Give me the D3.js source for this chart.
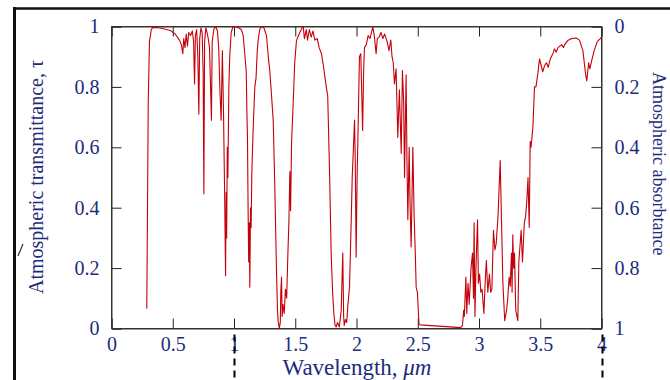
<!DOCTYPE html>
<html>
<head>
<meta charset="utf-8">
<script src="https://cdn.jsdelivr.net/npm/d3@7"></script>
<style>
  body { margin: 0; background: #fff; }
  svg { display: block; font-family: "Liberation Serif", "Times New Roman", serif; }
</style>
</head>
<body>
<svg id="chart" width="670" height="380"></svg>
<script>
// Wavelength (µm) and atmospheric transmittance
const wavelength = [
  0.288, 0.293, 0.300, 0.310, 0.325, 0.337, 0.40, 0.48, 0.52, 0.555, 0.57, 0.582, 0.59, 0.60, 0.61, 0.62, 0.63, 0.645, 0.66, 0.67,
  0.678, 0.685, 0.695, 0.705, 0.713, 0.72, 0.73, 0.74, 0.748, 0.754, 0.76, 0.77, 0.78, 0.79, 0.80, 0.816, 0.822, 0.835, 0.85, 0.865,
  0.875, 0.885, 0.895, 0.905, 0.915, 0.92, 0.925, 0.931, 0.936, 0.94, 0.945, 0.95, 0.958, 0.965, 0.977, 0.99, 1.01, 1.04, 1.06, 1.075,
  1.09, 1.10, 1.105, 1.11, 1.115, 1.12, 1.125, 1.129, 1.135, 1.14, 1.145, 1.15, 1.16, 1.17, 1.18, 1.19, 1.197, 1.21, 1.224, 1.245,
  1.265, 1.28, 1.292, 1.305, 1.32, 1.333, 1.34, 1.347, 1.355, 1.36, 1.37, 1.378, 1.382, 1.388, 1.393, 1.40, 1.41, 1.42, 1.43, 1.44,
  1.448, 1.456, 1.462, 1.47, 1.483, 1.495, 1.51, 1.537, 1.555, 1.565, 1.575, 1.59, 1.60, 1.615, 1.63, 1.645, 1.66, 1.68, 1.695, 1.714,
  1.73, 1.74, 1.753, 1.765, 1.78, 1.793, 1.805, 1.815, 1.825, 1.834, 1.845, 1.86, 1.875, 1.888, 1.895, 1.90, 1.91, 1.92, 1.93, 1.943,
  1.957, 1.965, 1.975, 1.984, 1.99, 1.997, 2.005, 2.012, 2.024, 2.035, 2.05, 2.058, 2.065, 2.08, 2.095, 2.11, 2.133, 2.145, 2.16, 2.17,
  2.185, 2.20, 2.215, 2.23, 2.25, 2.265, 2.28, 2.29, 2.30, 2.31, 2.323, 2.337, 2.35, 2.365, 2.375, 2.385, 2.392, 2.405, 2.412, 2.419,
  2.43, 2.437, 2.446, 2.46, 2.47, 2.48, 2.487, 2.497, 2.51, 2.52, 2.70, 2.85, 2.865, 2.875, 2.88, 2.893, 2.90, 2.91, 2.92, 2.935,
  2.947, 2.955, 2.96, 2.967, 2.975, 2.988, 2.995, 3.005, 3.015, 3.025, 3.04, 3.05, 3.06, 3.072, 3.085, 3.095, 3.105, 3.118, 3.13, 3.14,
  3.155, 3.173, 3.183, 3.195, 3.21, 3.225, 3.235, 3.246, 3.255, 3.265, 3.27, 3.276, 3.283, 3.29, 3.30, 3.317, 3.325, 3.344, 3.355, 3.37,
  3.38, 3.39, 3.40, 3.41, 3.418, 3.425, 3.44, 3.453, 3.465, 3.48, 3.494, 3.505, 3.52, 3.535, 3.55, 3.565, 3.58, 3.59, 3.603, 3.616,
  3.63, 3.645, 3.66, 3.675, 3.69, 3.70, 3.725, 3.755, 3.793, 3.82, 3.848, 3.87, 3.88, 3.895, 3.905, 3.92, 3.94, 3.965, 3.99, 4.0
];
const transmittance = [
  0.065, 0.35, 0.75, 0.95, 0.99, 0.997, 0.995, 0.987, 0.975, 0.955, 0.94, 0.91, 0.96, 0.93, 0.975, 0.935, 0.98, 0.97, 0.985, 0.95,
  0.81, 0.97, 0.99, 0.9, 0.71, 0.96, 0.995, 0.98, 0.85, 0.446, 0.95, 0.995, 0.98, 0.96, 0.93, 0.69, 0.95, 0.99, 1.0, 0.985,
  0.93, 0.79, 0.69, 0.92, 0.7, 0.55, 0.4, 0.175, 0.45, 0.3, 0.6, 0.5, 0.8, 0.9, 0.98, 0.998, 1.0, 0.995, 0.99, 0.97,
  0.9, 0.85, 0.72, 0.63, 0.4, 0.22, 0.35, 0.137, 0.4, 0.335, 0.5, 0.58, 0.7, 0.8, 0.83, 0.92, 0.954, 0.99, 1.0, 0.995,
  0.97, 0.9, 0.854, 0.78, 0.69, 0.47, 0.33, 0.19, 0.06, 0.026, 0.0, 0.02, 0.12, 0.17, 0.04, 0.08, 0.05, 0.13, 0.1, 0.25,
  0.35, 0.52, 0.39, 0.62, 0.744, 0.877, 0.954, 0.98, 0.995, 1.0, 0.96, 0.99, 0.955, 0.99, 0.965, 0.985, 0.955, 0.96, 0.93, 0.91,
  0.87, 0.84, 0.8, 0.77, 0.52, 0.25, 0.12, 0.05, 0.01, 0.005, 0.02, 0.005, 0.06, 0.25, 0.04, 0.01, 0.03, 0.02, 0.08, 0.137,
  0.36, 0.5, 0.6, 0.69, 0.55, 0.236, 0.5, 0.64, 0.9, 0.91, 0.656, 0.85, 0.93, 0.94, 0.97, 0.96, 0.998, 0.97, 0.91, 0.96,
  0.965, 0.98, 0.96, 0.975, 0.95, 0.92, 0.955, 0.9, 0.88, 0.81, 0.86, 0.633, 0.79, 0.58, 0.854, 0.75, 0.5, 0.84, 0.55, 0.36,
  0.6, 0.42, 0.27, 0.6, 0.38, 0.25, 0.137, 0.12, 0.016, 0.012, 0.007, 0.003, 0.01, 0.06, 0.04, 0.17, 0.05, 0.15, 0.08, 0.2,
  0.25, 0.1, 0.35, 0.04, 0.2, 0.36, 0.15, 0.18, 0.12, 0.13, 0.05, 0.15, 0.225, 0.12, 0.18, 0.12, 0.13, 0.325, 0.26, 0.28,
  0.37, 0.556, 0.37, 0.15, 0.026, 0.06, 0.1, 0.17, 0.14, 0.25, 0.12, 0.31, 0.2, 0.25, 0.06, 0.026, 0.22, 0.325, 0.22, 0.35,
  0.37, 0.42, 0.5, 0.335, 0.62, 0.6, 0.667, 0.8, 0.8, 0.843, 0.893, 0.875, 0.85, 0.87, 0.88, 0.865, 0.89, 0.9, 0.91, 0.926,
  0.915, 0.93, 0.935, 0.94, 0.93, 0.94, 0.954, 0.96, 0.962, 0.955, 0.92, 0.843, 0.82, 0.88, 0.86, 0.887, 0.92, 0.95, 0.96, 0.965
];

const xTicks = [0, 0.5, 1, 1.5, 2, 2.5, 3, 3.5, 4];
const yTicks = [0, 0.2, 0.4, 0.6, 0.8, 1];
const markedWavelengths = [1, 4]; // dashed guide lines under the axis

const navy = '#1d2b7c';
const red = '#c4000a';

const svg = d3.select('#chart');

// outer frame of the original figure (only top and left edges are in view)
svg.append('line').attr('x1', 14).attr('x2', 670).attr('y1', 8.5).attr('y2', 8.5)
  .attr('stroke', '#111').attr('stroke-width', 2.5);
svg.append('line').attr('x1', 14.5).attr('x2', 14.5).attr('y1', 7).attr('y2', 380)
  .attr('stroke', '#111').attr('stroke-width', 3);

// plot area
const plotLeft = 111.5, plotRight = 601.5, plotTop = 26.5, plotBottom = 328.5;

const x = d3.scaleLinear().domain([0, 4]).range([plotLeft, plotRight]);
const y = d3.scaleLinear().domain([0, 1]).range([plotBottom, plotTop]);
const yAbs = d3.scaleLinear().domain([0, 1]).range([plotTop, plotBottom]);

const fmt = d => String(d);

svg.append('g').attr('transform', `translate(0,${plotBottom})`)
  .call(d3.axisBottom(x).tickValues(xTicks).tickFormat(fmt).tickSize(-10).tickPadding(8));
svg.append('g').attr('transform', `translate(0,${plotTop})`)
  .call(d3.axisTop(x).tickValues(xTicks).tickFormat('').tickSize(-10));
svg.append('g').attr('transform', `translate(${plotLeft},0)`)
  .call(d3.axisLeft(y).tickValues(yTicks).tickFormat(fmt).tickSize(-10).tickPadding(12));
svg.append('g').attr('transform', `translate(${plotRight},0)`)
  .call(d3.axisRight(yAbs).tickValues(yTicks).tickFormat(fmt).tickSize(-10).tickPadding(13));

svg.selectAll('.domain').attr('stroke', '#333');
svg.selectAll('.tick line').attr('stroke', '#222');
svg.selectAll('.tick text')
  .attr('fill', navy)
  .style('font-size', '20px')
  .style('font-family', '"Liberation Serif", "Times New Roman", serif');

// closing box
svg.append('rect')
  .attr('x', plotLeft).attr('y', plotTop)
  .attr('width', plotRight - plotLeft).attr('height', plotBottom - plotTop)
  .attr('fill', 'none').attr('stroke', '#333').attr('stroke-width', 1);

// transmittance curve
const data = wavelength.map((w, i) => ({ w, t: transmittance[i] }));
const line = d3.line().x(d => x(d.w)).y(d => y(d.t));
svg.append('path')
  .datum(data)
  .attr('d', line)
  .attr('fill', 'none')
  .attr('stroke', red)
  .attr('stroke-width', 1.1)
  .attr('stroke-linejoin', 'round');

// dashed markers below the axis
svg.selectAll('.marker')
  .data(markedWavelengths)
  .enter()
  .append('line')
  .attr('class', 'marker')
  .attr('x1', d => Math.round(x(d)) + 0.5)
  .attr('x2', d => Math.round(x(d)) + 0.5)
  .attr('y1', plotBottom + 6)
  .attr('y2', 380)
  .attr('stroke', '#000')
  .attr('stroke-width', 2)
  .attr('stroke-dasharray', '7,5');

// axis titles
const xTitle = svg.append('text')
  .attr('x', 357).attr('y', 375)
  .attr('text-anchor', 'middle')
  .attr('fill', navy)
  .style('font-size', '23px');
xTitle.append('tspan').text('Wavelength, ');
xTitle.append('tspan').attr('font-style', 'italic').text('\u03bcm');

svg.append('text')
  .attr('transform', 'translate(43,177) rotate(-90)')
  .attr('text-anchor', 'middle')
  .attr('fill', navy)
  .style('font-size', '20px')
  .text('Atmospheric transmittance, \u03c4');

svg.append('text')
  .attr('transform', 'translate(653,72) rotate(90)')
  .attr('text-anchor', 'start')
  .attr('fill', navy)
  .style('font-size', '18px')
  .text('Atmospheric absorbtance');

// small stray stroke at the left edge of the original scan
svg.append('line')
  .attr('x1', 18).attr('y1', 256).attr('x2', 23).attr('y2', 244)
  .attr('stroke', '#333').attr('stroke-width', 1.2);
</script>
</body>
</html>
